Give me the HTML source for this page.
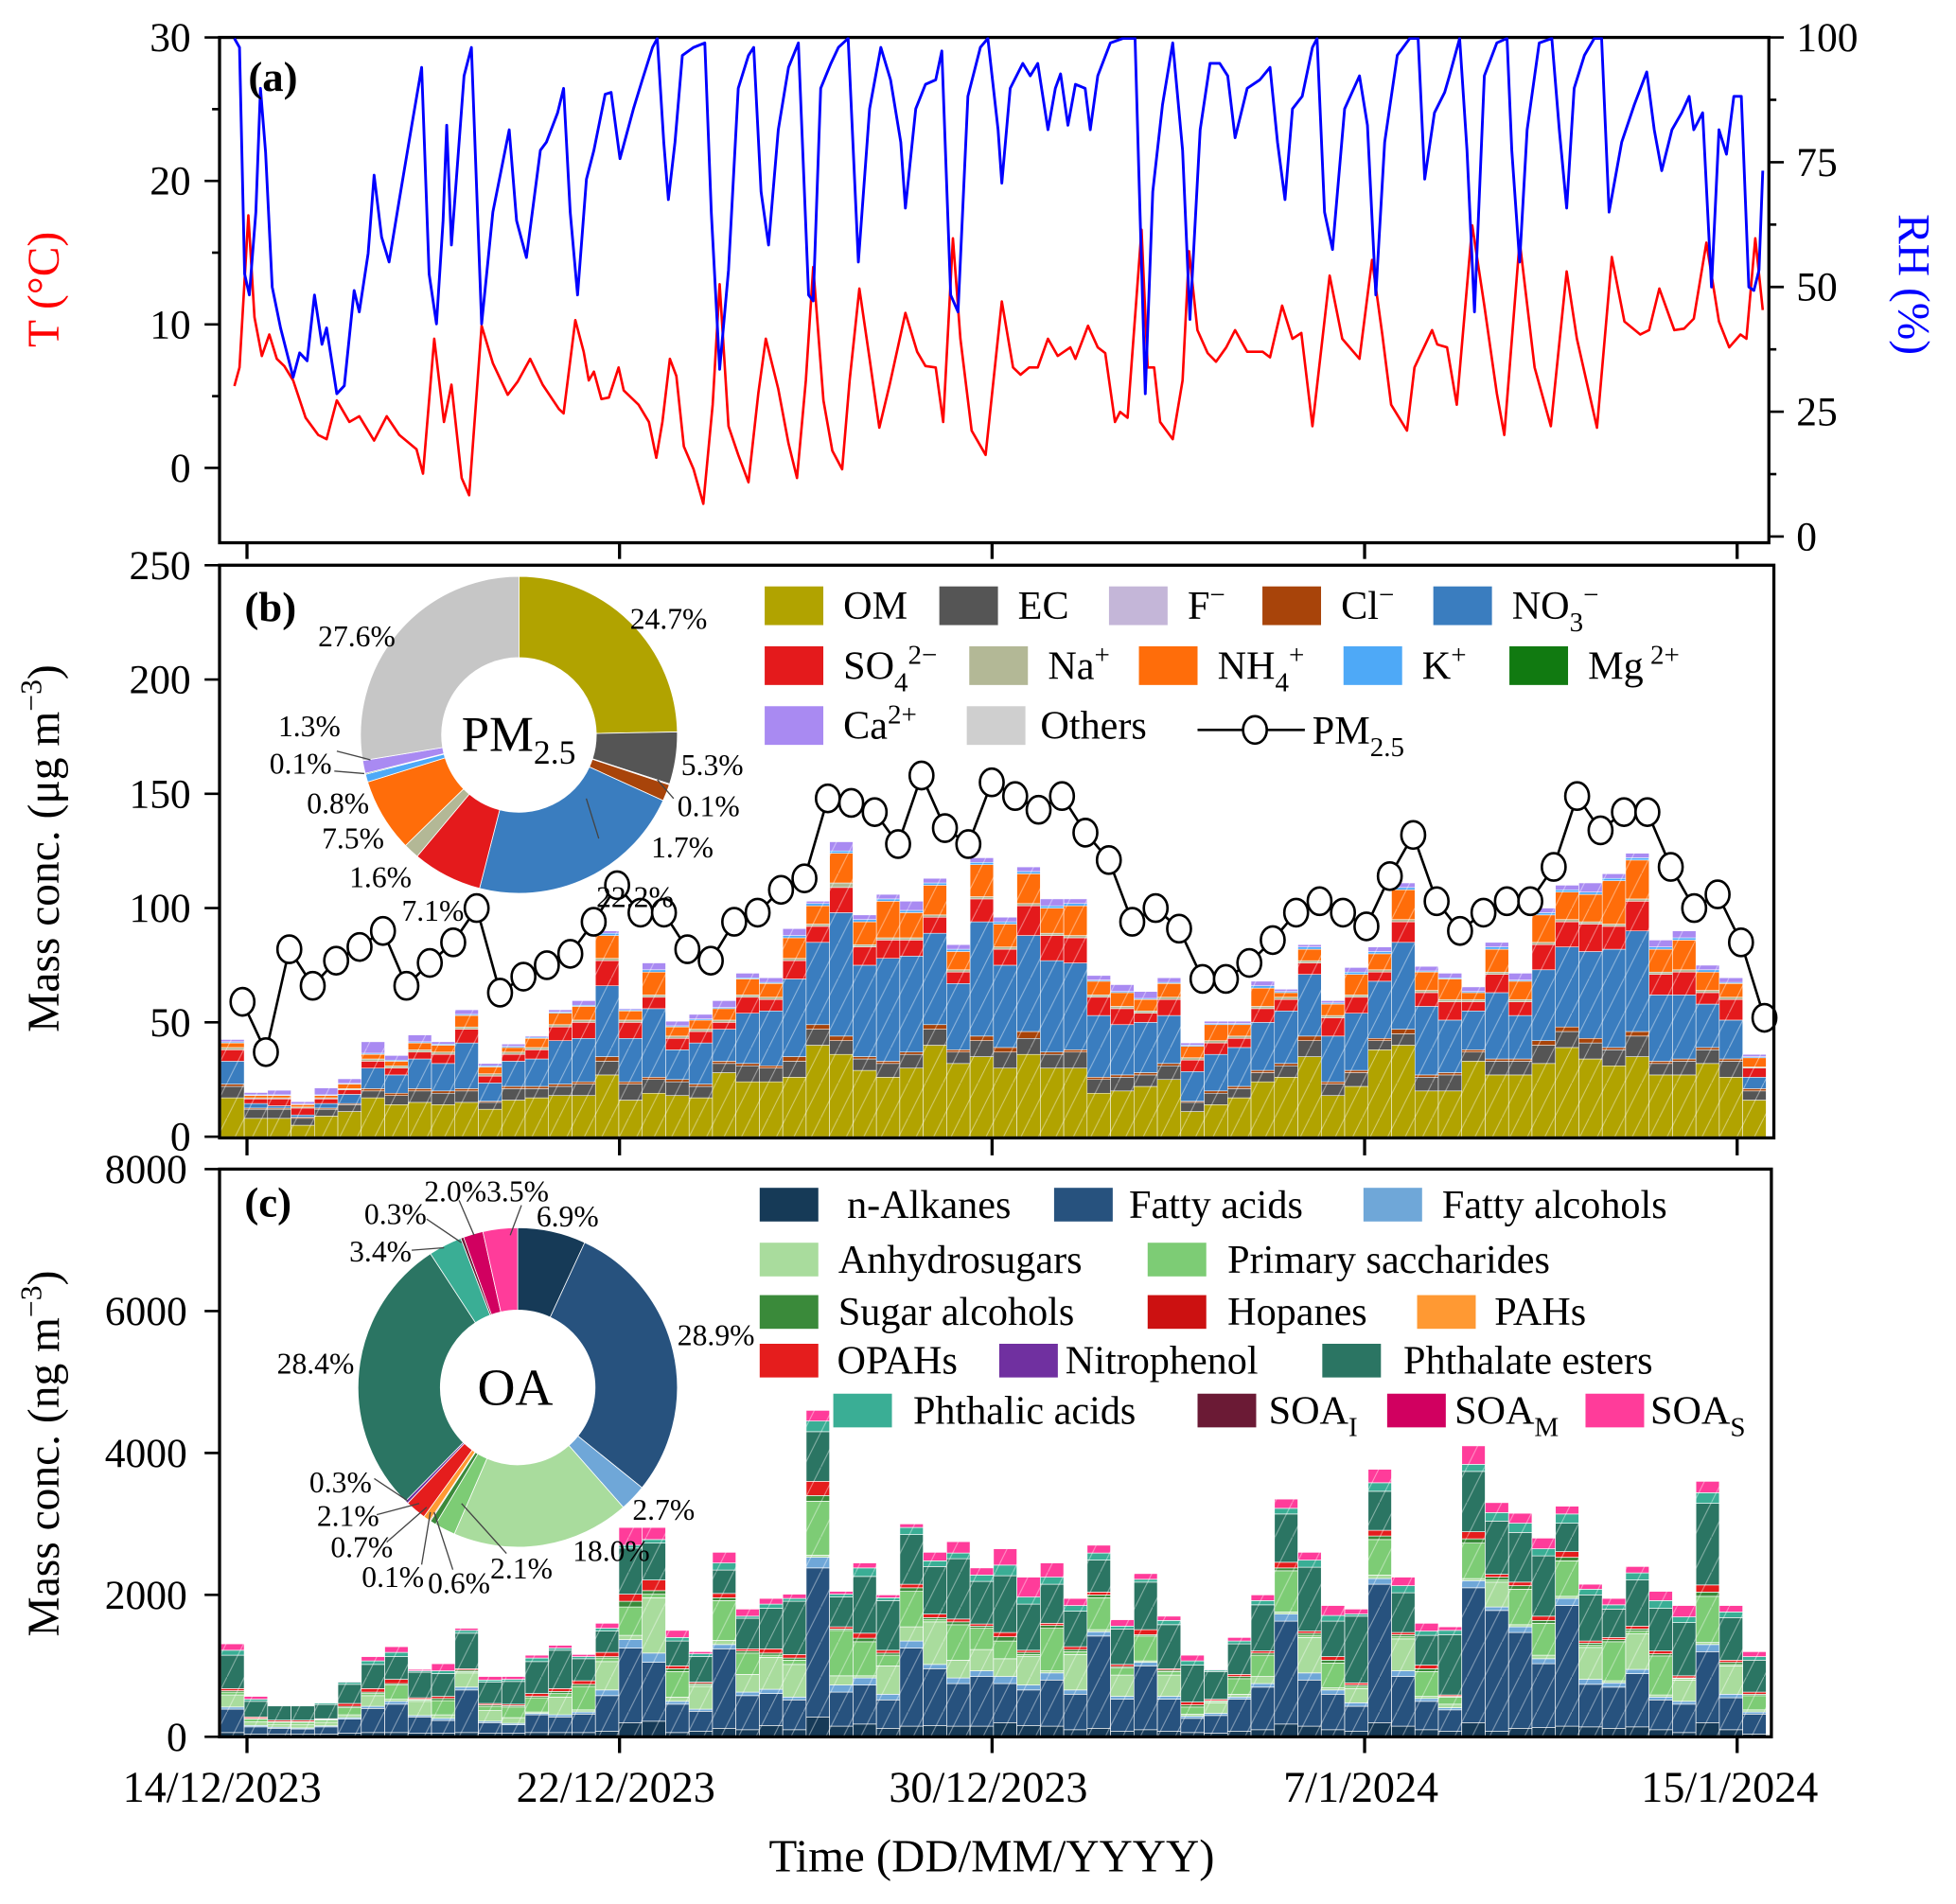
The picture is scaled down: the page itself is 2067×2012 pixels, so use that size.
<!DOCTYPE html>
<html><head><meta charset="utf-8"><style>
html,body{margin:0;padding:0;background:#fff;}
svg{display:block;font-family:"Liberation Serif",serif;}
</style></head><body>
<svg id="fig" width="2067" height="2012" viewBox="0 0 1568 1526" preserveAspectRatio="none" xmlns="http://www.w3.org/2000/svg">
<defs>
<pattern id="hatch" patternUnits="userSpaceOnUse" width="14" height="28"><line x1="0" y1="28" x2="14" y2="0" stroke="#fff" stroke-width="0.8" opacity="0.45"/></pattern>
<clipPath id="clipA"><rect x="176" y="30" width="1242" height="405"/></clipPath>
</defs>
<g id="gA"></g>
<g id="gB"></g>
<g id="gC"></g>
<g id="gX"></g>
</svg>
<script>
// ===== Panel (a) data =====
const tTime=[-0.27,-0.16,0.03,0.16,0.32,0.48,0.64,0.80,0.99,1.26,1.53,1.71,1.93,2.20,2.41,2.73,3.00,3.27,3.64,3.78,4.02,4.23,4.39,4.61,4.77,5.04,5.28,5.60,5.81,6.08,6.35,6.70,6.80,7.05,7.23,7.34,7.45,7.61,7.77,7.98,8.09,8.41,8.63,8.79,8.92,9.08,9.22,9.38,9.59,9.80,10.0,10.15,10.34,10.55,10.77,10.98,11.14,11.41,11.63,11.81,12.0,12.16,12.38,12.57,12.78,12.94,13.15,13.37,13.58,13.80,14.14,14.39,14.57,14.79,14.95,15.16,15.32,15.56,15.86,16.21,16.45,16.61,16.80,16.98,17.20,17.41,17.68,17.79,18.06,18.27,18.43,18.64,18.75,18.91,19.21,19.34,19.48,19.61,19.88,20.09,20.23,20.41,20.63,20.81,21.03,21.22,21.48,21.81,21.97,22.23,22.45,22.64,22.88,23.25,23.52,23.89,24.16,24.38,24.57,24.91,25.07,25.45,25.56,25.77,25.98,26.31,26.57,26.84,27.0,27.33,27.65,28.0,28.34,28.56,28.99,29.31,29.58,29.92,30.11,30.33,30.65,30.86,31.07,31.34,31.61,31.83,32.07,32.20,32.39,32.55];
const tVal=[5.7,7,17.6,10.5,7.8,9.3,7.6,7.1,6.1,3.5,2.3,2.0,4.7,3.2,3.6,1.9,3.6,2.3,1.3,-0.4,9.0,3.2,5.8,-0.7,-1.9,9.9,7.3,5.1,6.0,7.6,5.8,4.1,3.8,10.3,8.1,6.1,6.7,4.8,4.9,7.0,5.4,4.4,3.2,0.7,3.2,7.6,6.4,1.5,-0.1,-2.5,4.4,12.8,2.9,0.9,-1.0,5.2,9.0,5.5,1.7,-0.7,6.1,14.0,4.7,1.2,-0.1,6.1,12.5,7.6,2.8,5.8,10.8,8.1,7.1,7.0,3.2,16.0,9.0,2.6,0.9,11.6,7.0,6.5,7.0,7.0,9.0,7.8,8.4,7.6,9.9,8.4,8.0,3.2,3.9,3.5,16.6,7.0,7.0,3.2,2.0,6.1,15.1,9.6,8.0,7.4,8.4,9.6,8.1,8.1,7.7,11.3,9.0,9.4,2.9,13.4,9.0,7.6,14.5,9.3,4.4,2.6,7.0,9.6,8.6,8.4,4.4,16.9,11.3,5.2,2.3,15.8,7.0,2.9,13.7,9.0,2.8,14.7,10.2,9.3,9.6,12.5,9.6,9.7,10.4,15.7,10.2,8.4,9.3,9.0,16.0,11.0];
const rhTime=[-0.27,-0.16,-0.05,0.05,0.19,0.29,0.40,0.54,0.72,0.99,1.13,1.29,1.45,1.61,1.71,1.93,2.09,2.30,2.41,2.60,2.73,2.89,3.05,3.27,3.54,3.75,3.91,4.07,4.21,4.29,4.39,4.66,4.82,5.04,5.28,5.63,5.79,6.0,6.30,6.43,6.67,6.80,6.94,7.10,7.29,7.45,7.69,7.82,8.01,8.30,8.49,8.71,8.81,8.95,9.05,9.19,9.35,9.59,9.83,9.97,10.15,10.34,10.55,10.77,10.88,11.04,11.20,11.41,11.63,11.84,12.06,12.16,12.32,12.54,12.70,12.91,13.13,13.37,13.61,13.82,14.04,14.14,14.36,14.57,14.79,14.92,15.11,15.27,15.48,15.75,15.91,16.13,16.21,16.39,16.66,16.82,16.98,17.20,17.36,17.47,17.63,17.79,18.0,18.11,18.27,18.54,18.81,19.07,19.15,19.29,19.45,19.66,19.88,20.09,20.25,20.47,20.68,20.89,21.06,21.22,21.48,21.75,21.97,22.13,22.29,22.45,22.66,22.88,22.98,23.14,23.31,23.57,23.89,24.06,24.24,24.43,24.70,24.97,25.15,25.29,25.50,25.72,25.82,26.04,26.20,26.36,26.57,26.84,27.06,27.16,27.33,27.49,27.75,28.02,28.18,28.34,28.50,28.72,28.93,29.09,29.25,29.52,29.79,30.06,30.22,30.38,30.60,30.81,30.97,31.07,31.26,31.45,31.61,31.77,31.93,32.09,32.25,32.36,32.47,32.55];
const rhVal=[99.8,98,52.6,48.4,65,89.8,77,50,41.8,31.9,36.8,35.2,48.4,38.5,41.8,28.6,30.2,49.3,45,56.7,72.4,60,55,67.5,82.4,94,52.6,42.6,63.3,82.4,58.4,92.3,98,42.6,65,81.5,63.3,55.9,77.4,79,84.9,89.8,65,48.4,71.6,77.4,88.6,89,75.7,85.7,91.5,98,99.8,79,67.5,79,96.4,98,98.9,65,33.5,53.4,89.8,96.4,98,69.1,58.4,81.5,94,98.9,48.4,47.2,89.8,94.8,98,99.8,55,85.7,98,91.5,79,65.8,85.7,90.6,91.5,97.3,48.4,45,88.2,98,99.8,81.5,70.8,89.8,94.8,92.3,94.8,81.5,89.8,92.7,82.4,90.6,89.8,81.5,92.3,98.9,99.8,99.8,73.3,28.6,69.1,86.5,98.9,77.4,43.5,81.5,94.8,94.8,92.3,79.9,89.8,91.5,94,79,67.5,85.7,88.2,98,99.8,65,57.5,85.7,92.3,82.4,48.4,79,96.4,99.8,99.8,71.6,84.9,89,92.3,99.8,77.4,45,92.3,98.9,99.8,77.4,55,81.5,98.9,99.8,81.5,65.8,89.8,96.4,99.8,99.8,65,79,86.5,93.1,81.5,73.3,81.5,84.9,88.2,81.5,84.9,50,81.5,76.6,88.2,88.2,50,49.3,53.4,73.3];
const tTicks=[0,10,20,30];
const rhTicks=[0,25,50,75,100];
// ===== Panel (b) data (μg m-3) =====
const pm25=[59,37,82,66,77,83,90,66,76,85,100,63,70,75,80,94,110,98,98,82,77,94,98,108,113,148,146,142,128,158,135,128,155,149,143,149,133,121,94,100,91,69,69,76,86,98,103,98,92,114,132,103,90,98,103,103,118,149,134,142,142,118,100,106,85,52];
const om=[17,8,8,5,9,11,17,14,15,14,15,12,16,17,18,18,27,16,19,18,17,28,24,24,26,40,36,29,26,30,40,32,35,30,36,30,30,19,20,22,25,11,14,17,24,26,35,18,22,38,40,20,20,33,27,27,32,39,34,31,35,27,27,32,26,16];
const ec=[5,4,4,3,3,3,3,4,5,5,5,3,5,4,4,5,6,7,6,6,5,4,7,6,7,7,6,5,6,6,7,5,7,7,7,6,7,6,6,5,6,4,5,4,4,5,7,5,6,4,5,6,7,4,6,6,8,7,7,7,9,5,6,6,7,4];
const cl=[1,0.5,0.5,0.5,0.5,0.5,1,1,1,1,1,0.5,1,1,1,1,2,1,1,1,1,1,1,1,2,2,2,1,1,1,2,1,2,2,3,1,1,1,1,1,1,0.5,1,1,1,1,2,1,1,1,2,1,1,1,1,1,2,2,2,1,2,1,1,1,1,1];
const no3=[10,2,1,1,2,4,9,8,13,12,20,8,11,12,19,19,31,19,30,13,18,14,22,24,34,36,54,40,45,42,40,29,50,36,42,40,38,27,22,22,21,13,16,17,21,23,27,20,25,25,38,30,23,17,29,19,31,35,38,43,44,29,28,19,17,5];
const so4=[5,2,3,3,2,2,3,3,3,4,6,3,3,4,6,7,11,7,5,5,5,3,7,5,8,7,11,8,8,7,7,5,10,7,13,11,11,8,7,4,7,5,5,4,6,5,5,8,7,4,9,6,8,4,8,6,11,11,12,10,13,9,10,5,9,4];
const na=[1,0.5,0.5,0.5,0.5,0.5,1,1,1,1,1,1,1,1,1,1,1,1,1,1,1,1,1,1,1,1,2,1,1,1,1,1,1,1,1,1,1,1,1,1,1,1,1,1,1,1,1,1,1,1,1,1,1,1,1,1,1,1,1,1,1,1,1,1,1,0.5];
const nh4=[2,1,1,1,1,2,2,2,3,3,5,3,2,4,5,6,10,4,10,4,4,5,7,6,9,8,13,10,16,11,13,8,14,10,13,11,13,6,6,5,6,5,7,5,8,2,5,5,9,7,13,8,9,3,10,8,12,12,12,19,17,10,13,8,6,4];
const kk=[0.5,0.3,0.3,0.3,0.3,0.3,0.5,0.5,0.5,0.5,0.5,0.5,0.5,0.5,0.5,0.5,1,0.5,1,0.5,0.5,0.5,0.5,0.5,1,1,1,1,1,1,1,1,1,1,1,1,1,0.5,0.5,0.5,0.5,0.5,0.5,0.5,1,0.5,1,0.5,1,1,1,0.5,0.5,0.5,1,0.5,1,1,1,1,1,1,1,1,0.5,0.5];
const ca=[1,1,2,1,3,2,5,2,3,1,2,1,1,0.5,1,2,1,0.5,3,2,2,3,2,2,3,1,4,2,2,4,2,2,2,2,2,3,2,2,3,3,2,1,1,1,2,1,1,1,2,2,2,2,2,2,2,3,2,2,4,2,2,3,3,2,2,1];
const pieBVals=[24.7,5.3,0.1,1.7,22.2,7.1,1.6,7.5,0.8,0.1,1.3,27.6];
const pieBLabels=["24.7%","5.3%","0.1%","1.7%","22.2%","7.1%","1.6%","7.5%","0.8%","0.1%","1.3%","27.6%"];
const bTicks=[0,50,100,150,200,250];
// ===== Panel (c) data (ng m-3) =====
const nalk=[60,40,40,40,40,50,60,60,50,50,60,50,50,60,60,60,80,200,220,60,80,120,100,160,100,280,150,180,120,150,160,150,150,200,160,150,100,120,80,100,80,60,50,80,100,180,150,100,80,200,150,100,80,200,80,120,130,150,140,120,140,100,60,200,100,40];
const facid=[330,100,80,70,100,200,340,400,230,180,600,150,120,250,220,260,500,1050,830,400,280,1120,480,450,420,2100,480,550,400,1100,800,600,700,550,500,650,500,1300,450,900,450,200,250,450,600,1450,650,500,350,1950,700,400,300,1900,1700,1350,900,1700,600,580,750,420,400,1000,450,280];
const falc=[30,20,15,15,15,20,30,40,20,30,40,20,20,20,30,30,80,120,130,40,30,60,50,60,40,150,100,100,80,100,60,80,80,100,70,100,60,60,40,50,40,30,30,30,50,100,100,60,50,80,80,40,30,100,50,80,70,100,70,60,60,40,40,100,50,30];
const anhy=[170,50,40,50,50,40,150,30,200,50,200,150,80,20,250,30,400,60,780,60,320,60,250,450,460,30,130,30,400,200,600,250,300,250,400,30,500,30,300,20,300,30,150,40,100,30,500,30,200,50,450,30,50,30,350,30,50,30,450,30,500,30,300,30,400,30];
const psac=[40,40,30,30,30,100,30,200,20,200,20,60,150,200,50,330,50,400,50,360,20,560,300,30,60,760,640,480,150,500,30,500,300,250,30,600,40,450,100,350,50,100,20,220,300,580,30,350,30,500,30,350,100,500,30,500,450,500,30,550,40,550,20,650,20,200];
const sugalc=[20,10,10,10,10,20,20,20,10,30,20,20,20,20,30,30,20,80,50,40,20,40,30,30,30,80,20,50,30,50,30,40,30,60,30,40,30,40,20,20,20,30,10,30,30,40,30,40,20,50,30,40,10,60,40,50,40,50,30,30,30,30,10,60,30,20];
const opah=[30,20,20,20,10,40,50,60,20,30,20,20,20,40,40,50,60,100,150,40,20,60,30,60,50,200,30,70,40,50,50,40,30,60,30,30,40,40,30,70,20,40,20,30,30,80,30,50,30,80,30,50,20,100,40,50,60,80,30,30,40,40,30,100,30,30];
const pe=[470,220,200,200,200,270,340,320,360,320,500,300,320,450,540,310,300,650,520,350,360,330,430,570,750,700,420,800,700,700,670,850,600,800,650,550,500,450,500,670,620,520,390,430,650,680,900,500,940,550,560,420,850,850,750,700,850,400,650,400,650,600,750,1150,600,450];
const pa=[70,30,10,10,20,30,50,60,20,40,40,30,30,50,30,30,40,40,50,50,40,100,30,60,40,150,40,120,40,100,80,80,90,150,100,100,80,100,40,40,60,60,20,40,60,80,100,80,30,120,100,60,60,100,120,130,100,130,80,60,100,110,80,150,80,50];
const soa=[90,40,5,5,5,10,60,80,20,100,30,50,40,40,40,30,70,250,170,100,30,150,100,80,60,150,40,70,40,50,120,160,100,230,280,200,100,110,90,80,60,80,10,50,80,130,110,140,70,190,120,110,50,260,140,140,150,110,70,90,90,130,160,160,90,70];
const pieCVals=[6.9,28.9,2.7,18.0,2.1,0.6,0.1,0.7,2.1,0.3,28.4,3.4,0.3,2.0,3.5];
const pieCLabels=["6.9%","28.9%","2.7%","18.0%","2.1%","0.6%","0.1%","0.7%","2.1%","0.3%","28.4%","3.4%","0.3%","2.0%","3.5%"];
const cTicks=[0,2000,4000,6000,8000];
const dateLabels=["14/12/2023","22/12/2023","30/12/2023","7/1/2024","15/1/2024"];
const dateDays=[0,8,16,24,32];

const NS="http://www.w3.org/2000/svg";
function mk(tag,attrs,parent,text){const e=document.createElementNS(NS,tag);for(const k in attrs)e.setAttribute(k,attrs[k]);if(text!==undefined)e.textContent=text;parent.appendChild(e);return e;}
const gA=document.getElementById('gA'),gB=document.getElementById('gB'),gC=document.getElementById('gC'),gX=document.getElementById('gX');
// scales
const xDay=d=>198+d*37.33;
const yT=v=>375-v*11.5;
const yRH=v=>430-v*4;
const barW=18.77;
const barX=i=>177+i*barW;
const yB=v=>911-v*1.832;
const yC=v=>1392-v*0.056875;

// ===== Panel A =====
let e;
e=mk('rect',{x:176,y:30,width:1242,height:405,fill:'none',stroke:'#000','stroke-width':2.5},gA);

let dT=tTime.map((t,i)=>(i?'L':'M')+xDay(t).toFixed(1)+','+yT(tVal[i]).toFixed(1)).join('');
e=mk('path',{d:dT,fill:'none',stroke:'#ff0000','stroke-width':2,'clip-path':'url(#clipA)','stroke-linejoin':'round'},gA);

let dR=rhTime.map((t,i)=>(i?'L':'M')+xDay(t).toFixed(1)+','+yRH(rhVal[i]).toFixed(1)).join('');
e=mk('path',{d:dR,fill:'none',stroke:'#0000ff','stroke-width':2.2,'clip-path':'url(#clipA)','stroke-linejoin':'round'},gA);

tTicks.forEach(v=>{
  e=mk('line',{x1:164,x2:176,y1:yT(v),y2:yT(v),stroke:'#000','stroke-width':2},gA);
  
  e=mk('text',{x:153,y:yT(v)+11,'font-size':33,'text-anchor':'end'},gA,String(v));
  
});
[5,15,25].forEach(v=>{mk('line',{x1:170,x2:176,y1:yT(v),y2:yT(v),stroke:'#000','stroke-width':2},gA);});
rhTicks.forEach(v=>{
  e=mk('line',{x1:1418,x2:1430,y1:yRH(v),y2:yRH(v),stroke:'#000','stroke-width':2},gA);
  
  e=mk('text',{x:1440,y:yRH(v)+11,'font-size':33},gA,String(v));
  
});
[12.5,37.5,62.5,87.5].forEach(v=>{mk('line',{x1:1418,x2:1424,y1:yRH(v),y2:yRH(v),stroke:'#000','stroke-width':2},gA);});
e=mk('text',{x:0,y:0,'font-size':36,fill:'#ff0000','text-anchor':'middle',transform:'translate(47,232) rotate(-90)'},gA,'T (°C)');

e=mk('text',{x:0,y:0,'font-size':36,fill:'#0000ff','text-anchor':'middle',transform:'translate(1522,228) rotate(90)'},gA,'RH (%)');

e=mk('text',{x:199,y:73,'font-size':34,'font-weight':'bold'},gA,'(a)');

dateDays.forEach(d=>{mk('line',{x1:xDay(d),x2:xDay(d),y1:435,y2:448,stroke:'#000','stroke-width':2.5},gA);});

// ===== Panel B =====
const bColors={om:'#b1a300',ec:'#555555',cl:'#a8440a',no3:'#3a7dbf',so4:'#e41a1c',na:'#b3b896',nh4:'#ff6d0a',k:'#4ea9f7',ca:'#a98af2'};
const bSeries=[['om',om],['ec',ec],['cl',cl],['no3',no3],['so4',so4],['na',na],['nh4',nh4],['k',kk],['ca',ca]];
om.forEach((_,i)=>{
  let acc=0;const x=barX(i);
  const g=mk('g',{},gB);
  
  bSeries.forEach(([nm,arr])=>{
    const v=arr[i];const y1=yB(acc+v),y0=yB(acc);
    const r=mk('rect',{x:x,y:y1,width:barW,height:Math.max(0,y0-y1),fill:bColors[nm],stroke:'#fff','stroke-width':0.4},g);
    
    acc+=v;
  });
  mk('rect',{x:x,y:yB(acc),width:barW,height:yB(0)-yB(acc),fill:'url(#hatch)'},g);
});
let dP=pm25.map((v,i)=>(i?'L':'M')+(barX(i)+barW/2+8).toFixed(1)+','+yB(v).toFixed(1)).join('');
e=mk('path',{d:dP,fill:'none',stroke:'#000','stroke-width':2},gB);

pm25.forEach((v,i)=>{
  e=mk('ellipse',{cx:barX(i)+barW/2+8,cy:yB(v),rx:9.5,ry:11,fill:'#fff',stroke:'#000','stroke-width':2},gB);
  
});
e=mk('rect',{x:176,y:453,width:1246,height:459,fill:'none',stroke:'#000','stroke-width':2.5},gB);

bTicks.forEach(v=>{
  mk('line',{x1:164,x2:176,y1:yB(v),y2:yB(v),stroke:'#000','stroke-width':2},gB);
  e=mk('text',{x:153,y:yB(v)+11,'font-size':33,'text-anchor':'end'},gB,String(v));
  
});
e=mk('text',{x:0,y:0,'font-size':36,'text-anchor':'middle',transform:'translate(47,680) rotate(-90)'},gB);

e.innerHTML='Mass conc. (μg m<tspan font-size="24" dy="-14">−3</tspan><tspan dy="14">)</tspan>';
e=mk('text',{x:196,y:498,'font-size':34,'font-weight':'bold'},gB,'(b)');

dateDays.forEach(d=>{mk('line',{x1:xDay(d),x2:xDay(d),y1:912,y2:926,stroke:'#000','stroke-width':2.5},gB);});

function donut(g,cx,cy,R,r,vals,cols,name){
  const tot=vals.reduce((a,b)=>a+b,0);let a0=0;
  vals.forEach((v,i)=>{
    const a1=a0+v/tot*2*Math.PI;
    const p=(a,rr)=>[cx+rr*Math.sin(a),cy-rr*Math.cos(a)];
    const [x0,y0]=p(a0,R),[x1,y1]=p(a1,R),[x2,y2]=p(a1,r),[x3,y3]=p(a0,r);
    const lg=(a1-a0)>Math.PI?1:0;
    const s=mk('path',{d:`M${x0},${y0}A${R},${R} 0 ${lg} 1 ${x1},${y1}L${x2},${y2}A${r},${r} 0 ${lg} 0 ${x3},${y3}Z`,fill:cols[i],stroke:'#fff','stroke-width':0.6},g);
    
    a0=a1;
  });
}
const pieBCols=['#b1a300','#555555','#c4b6d8','#a8440a','#3a7dbf','#e41a1c','#b3b896','#ff6d0a','#4ea9f7','#117a11','#a98af2','#c6c6c6'];
donut(gB,416,589,127,62,pieBVals,pieBCols,'pie-b-slice');
const pbPos=[[505,496],[546,613],[543,646],[522,679],[478,719],[322,730],[280,703],[258,672],[246,644],[216,612],[223,582],[255,510]];
pieBLabels.forEach((t,i)=>{e=mk('text',{x:pbPos[i][0],y:pbPos[i][1]+8,'font-size':24},gB,t);});
[[292,620,268,618],[297,609,270,602],[470,640,480,672],[527,625,540,640]].forEach(l=>mk('line',{x1:l[0],y1:l[1],x2:l[2],y2:l[3],stroke:'#444','stroke-width':1},gB));
e=mk('text',{x:370,y:602,'font-size':40},gB);e.innerHTML='PM<tspan font-size="27" dy="10">2.5</tspan>';

// legend B
const legB=[[613,470,'#b1a300','OM'],[753,470,'#555555','EC'],[889,470,'#c4b6d8','F<tspan font-size="22" dy="-12">−</tspan>'],[1012,470,'#a8440a','Cl<tspan font-size="22" dy="-12">−</tspan>'],[1149,470,'#3a7dbf','NO<tspan font-size="22" dy="10">3</tspan><tspan font-size="22" dy="-22">−</tspan>'],
[613,518,'#e41a1c','SO<tspan font-size="22" dy="10">4</tspan><tspan font-size="22" dy="-22">2−</tspan>'],[777,518,'#b3b896','Na<tspan font-size="22" dy="-12">+</tspan>'],[913,518,'#ff6d0a','NH<tspan font-size="22" dy="10">4</tspan><tspan font-size="22" dy="-22">+</tspan>'],[1077,518,'#4ea9f7','K<tspan font-size="22" dy="-12">+</tspan>'],[1210,518,'#117a11','Mg<tspan font-size="22" dy="-12"> 2+</tspan>'],
[613,566,'#a98af2','Ca<tspan font-size="22" dy="-12">2+</tspan>'],[775,566,'#cfcfcf','Others']];
legB.forEach(l=>{
  const g=mk('g',{},gB);
  mk('rect',{x:l[0],y:l[1],width:47,height:31,fill:l[2]},g);
  const t=mk('text',{x:l[0]+(l[3]==='Others'?59:63),y:l[1]+26,'font-size':32},g);t.innerHTML=l[3];
});
{const g=mk('g',{},gB);
mk('line',{x1:960,x2:1046,y1:585,y2:585,stroke:'#000','stroke-width':2},g);
mk('ellipse',{cx:1006,cy:585,rx:9.5,ry:11,fill:'#fff',stroke:'#000','stroke-width':2},g);
const t=mk('text',{x:1052,y:596,'font-size':32},g);t.innerHTML='PM<tspan font-size="22" dy="10">2.5</tspan>';}

// ===== Panel C =====
const cCols={nalk:'#163a57',facid:'#27527e',falc:'#6fa7d8',anhy:'#a9dc9d',psac:'#7dcc75',sugalc:'#3a8a3a',opah:'#e51d1d',pe:'#2b7563',pa:'#3aae95',soa:'#ff3c9a'};
const cSeries=[['nalk',nalk],['facid',facid],['falc',falc],['anhy',anhy],['psac',psac],['sugalc',sugalc],['opah',opah],['pe',pe],['pa',pa],['soa',soa]];
nalk.forEach((_,i)=>{
  let acc=0;const x=barX(i);
  const g=mk('g',{},gC);
  
  cSeries.forEach(([nm,arr])=>{
    const v=arr[i];const y1=yC(acc+v),y0=yC(acc);
    const r=mk('rect',{x:x,y:y1,width:barW,height:Math.max(0,y0-y1),fill:cCols[nm],stroke:'#fff','stroke-width':0.5},g);
    
    acc+=v;
  });
  mk('rect',{x:x,y:yC(acc),width:barW,height:yC(0)-yC(acc),fill:'url(#hatch)'},g);
});
e=mk('rect',{x:176,y:937,width:1244,height:455,fill:'none',stroke:'#000','stroke-width':2.5},gC);

cTicks.forEach(v=>{
  mk('line',{x1:164,x2:176,y1:yC(v),y2:yC(v),stroke:'#000','stroke-width':2},gC);
  e=mk('text',{x:150,y:yC(v)+11,'font-size':33,'text-anchor':'end'},gC,String(v));
  
});
e=mk('text',{x:0,y:0,'font-size':36,'text-anchor':'middle',transform:'translate(47,1165) rotate(-90)'},gC);

e.innerHTML='Mass conc. (ng m<tspan font-size="24" dy="-14">−3</tspan><tspan dy="14">)</tspan>';
e=mk('text',{x:196,y:975,'font-size':34,'font-weight':'bold'},gC,'(c)');

const pieCCols=['#163a57','#27527e','#6fa7d8','#a9dc9d','#7dcc75','#3a8a3a','#cc1111','#ff9933','#e51d1d','#7030a0','#2b7563','#3aae95','#6b1a35','#d10060','#ff3c9a'];
donut(gC,415,1112,128,62,pieCVals,pieCCols,'pie-c-slice');
const pcPos=[[430,975],[543,1070],[507,1210],[459,1243],[393,1257],[343,1269],[290,1264],[265,1240],[254,1215],[248,1188],[222,1093],[280,1003],[292,973],[340,955],[390,955]];
pieCLabels.forEach((t,i)=>{e=mk('text',{x:pcPos[i][0],y:pcPos[i][1]+8,'font-size':24},gC,t);});
[[327,1203,300,1185],[336,1205,302,1214],[342,1208,310,1236],[345,1212,338,1254],[348,1212,363,1258],[370,1205,406,1245],[356,1000,330,1002],[370,996,342,977],[380,990,368,962],[409,990,418,966]].forEach(l=>mk('line',{x1:l[0],y1:l[1],x2:l[2],y2:l[3],stroke:'#444','stroke-width':1},gC));
e=mk('text',{x:413,y:1126,'font-size':42,'text-anchor':'middle'},gC,'OA');

const legC=[[609,952,'#163a57','n-Alkanes',679],[845,952,'#27527e','Fatty acids',905],[1093,952,'#6fa7d8','Fatty alcohols',1156],
[609,996,'#a9dc9d','Anhydrosugars',672],[920,996,'#7dcc75','Primary saccharides',984],
[609,1038,'#3a8a3a','Sugar alcohols',672],[920,1038,'#cc1111','Hopanes',984],[1136,1038,'#ff9933','PAHs',1198],
[609,1077,'#e51d1d','OPAHs',671],[801,1077,'#7030a0','Nitrophenol',854],[1060,1077,'#2b7563','Phthalate esters',1125],
[668,1117,'#3aae95','Phthalic acids',732],[960,1117,'#6b1a35','SOA<tspan font-size="22" dy="10">I</tspan>',1017],[1112,1117,'#d10060','SOA<tspan font-size="22" dy="10">M</tspan>',1166],[1271,1117,'#ff3c9a','SOA<tspan font-size="22" dy="10">S</tspan>',1323]];
legC.forEach(l=>{
  const g=mk('g',{},gC);
  mk('rect',{x:l[0],y:l[1],width:47,height:27,fill:l[2]},g);
  const t=mk('text',{x:l[4],y:l[1]+24,'font-size':32},g);t.innerHTML=l[3];
});
dateDays.forEach((d,i)=>{
  mk('line',{x1:xDay(d),x2:xDay(d),y1:1392,y2:1405,stroke:'#000','stroke-width':2.5},gX);
  e=mk('text',{x:xDay(d)-(i===0?20:(i===4?6:3)),y:1444,'font-size':35,'text-anchor':'middle'},gX,dateLabels[i]);
  
});
e=mk('text',{x:795,y:1500,'font-size':37,'text-anchor':'middle'},gX,'Time (DD/MM/YYYY)');

</script>
</body></html>
